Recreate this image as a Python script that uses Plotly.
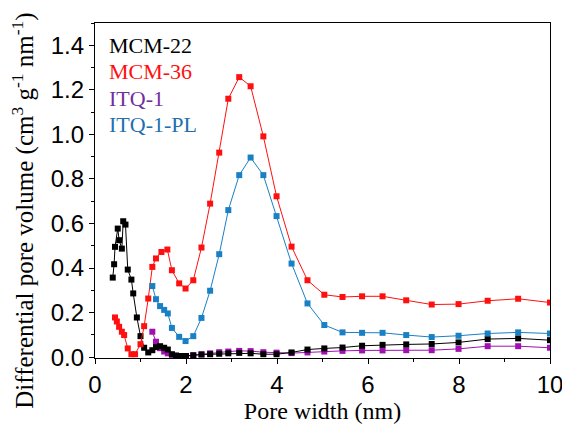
import plotly.graph_objects as go

# ---- data ----
names = ["MCM-22", "MCM-36", "ITQ-1", "ITQ-1-PL"]
colors = ["#000000", "#ff1010", "#a010b0", "#1a80c4"]
label_colors = ["#000000", "#ff1010", "#7030a0", "#1f70b0"]
x_title = "Pore width (nm)"
y_title = "Differential pore volume (cm<sup>3</sup> g<sup>-1</sup> nm<sup>-1</sup>)"

mcm22_x = [0.39, 0.42, 0.44, 0.50, 0.53, 0.59, 0.62, 0.67, 0.72, 0.80, 0.84, 0.92, 1.00, 1.08, 1.17,
           1.26, 1.34, 1.43, 1.52, 1.60, 1.69, 1.78, 1.87, 2.00, 2.16, 2.34, 2.53, 2.73, 2.93, 3.17,
           3.42, 3.70, 3.99, 4.32, 4.67, 5.04, 5.44, 5.87, 6.32, 6.84, 7.40, 7.99, 8.63, 9.30, 10.0]
mcm22_y = [0.357, 0.417, 0.495, 0.577, 0.525, 0.487, 0.610, 0.595, 0.393, 0.348, 0.286, 0.178, 0.094,
           0.042, 0.021, 0.031, 0.045, 0.049, 0.042, 0.034, 0.013, 0.007, 0.005, 0.005, 0.008, 0.012,
           0.013, 0.015, 0.017, 0.019, 0.017, 0.013, 0.013, 0.021, 0.034, 0.039, 0.043, 0.051, 0.055,
           0.057, 0.059, 0.066, 0.081, 0.084, 0.076]

mcm36_x = [0.44, 0.48, 0.53, 0.59, 0.64, 0.72, 0.80, 0.88, 1.00, 1.08, 1.17, 1.26, 1.34, 1.46, 1.59,
           1.69, 1.85, 1.99, 2.16, 2.34, 2.53, 2.73, 2.93, 3.17, 3.42, 3.70, 3.99, 4.32, 4.67, 5.04,
           5.44, 5.87, 6.32, 6.84, 7.40, 7.99, 8.63, 9.30, 10.0]
mcm36_y = [0.178, 0.160, 0.136, 0.114, 0.099, 0.039, 0.013, 0.013, 0.058, 0.139, 0.263, 0.405, 0.443,
           0.472, 0.483, 0.390, 0.331, 0.308, 0.345, 0.492, 0.689, 0.918, 1.160, 1.257, 1.216, 0.991,
           0.722, 0.496, 0.345, 0.280, 0.270, 0.273, 0.273, 0.255, 0.236, 0.238, 0.253, 0.262, 0.245]

itq1_x = [1.26, 1.34, 1.43, 1.52, 1.60, 1.69, 1.78, 1.87, 1.99, 2.16, 2.34, 2.53, 2.73, 2.93, 3.17,
          3.42, 3.70, 3.99, 4.32, 4.67, 5.04, 5.44, 5.87, 6.32, 6.84, 7.40, 7.99, 8.63, 9.30, 10.0]
itq1_y = [0.114, 0.069, 0.040, 0.025, 0.017, 0.010, 0.006, 0.004, 0.004, 0.008, 0.012, 0.017, 0.022,
          0.025, 0.028, 0.027, 0.022, 0.020, 0.018, 0.021, 0.025, 0.028, 0.030, 0.030, 0.031, 0.031,
          0.037, 0.049, 0.049, 0.042]

itq1pl_x = [1.26, 1.34, 1.43, 1.52, 1.60, 1.69, 1.85, 1.99, 2.16, 2.34, 2.53, 2.73, 2.93, 3.17, 3.42,
            3.70, 3.99, 4.32, 4.67, 5.04, 5.44, 5.87, 6.32, 6.84, 7.40, 7.99, 8.63, 9.30, 10.0]
itq1pl_y = [0.319, 0.260, 0.229, 0.212, 0.196, 0.131, 0.091, 0.072, 0.094, 0.176, 0.298, 0.462, 0.660,
            0.817, 0.896, 0.817, 0.633, 0.420, 0.241, 0.144, 0.111, 0.109, 0.109, 0.099, 0.090, 0.096,
            0.106, 0.111, 0.106]

series = [(mcm22_x, mcm22_y), (mcm36_x, mcm36_y), (itq1_x, itq1_y), (itq1pl_x, itq1pl_y)]
draw_order = [2, 0, 1, 3]

SERIF = "Liberation Serif"
SANS = "Liberation Sans"

fig = go.Figure()
for i in draw_order:
    xs, ys = series[i]
    fig.add_trace(go.Scatter(
        x=xs, y=ys, mode="lines+markers", name=names[i],
        line=dict(color=colors[i], width=1),
        marker=dict(symbol="square", size=6, color=colors[i]),
        showlegend=False,
    ))

for k, nm in enumerate(names):
    fig.add_annotation(
        x=0.026, y=0.934 - k * 0.079, xref="paper", yref="paper",
        xanchor="left", yanchor="middle", text=nm, showarrow=False,
        font=dict(family=SERIF, size=22, color=label_colors[k]),
    )

# y-axis title as a rotated annotation (placed like the reference)
fig.add_annotation(
    x=-0.158, y=0.44, xref="paper", yref="paper",
    xanchor="center", yanchor="middle", textangle=-90,
    text=y_title, showarrow=False,
    font=dict(family=SERIF, size=25, color="black"),
)

axis_common = dict(
    showline=True, linecolor="black", linewidth=1.2, mirror=True,
    ticks="outside", ticklen=5, tickwidth=1, tickcolor="black",
    showgrid=False, zeroline=False, automargin=False,
    tickfont=dict(family=SANS, size=24, color="black"),
)

fig.update_xaxes(
    range=[0, 10], dtick=2, tick0=0,
    minor=dict(dtick=1, ticks="outside", ticklen=3, tickcolor="black"),
    title=dict(text=x_title, standoff=2,
               font=dict(family=SERIF, size=24, color="black")),
    **axis_common,
)
fig.update_yaxes(
    range=[-0.004, 1.5], dtick=0.2, tick0=0, tickformat=".1f",
    minor=dict(dtick=0.1, ticks="outside", ticklen=3, tickcolor="black"),
    **axis_common,
)

# the page adds an 8px body margin, so the plot box is shifted back by 8px
fig.update_layout(
    width=570, height=436,
    margin=dict(l=87, r=28, t=15, b=86),
    plot_bgcolor="white", paper_bgcolor="white",
)

fig.write_html("out.html")
